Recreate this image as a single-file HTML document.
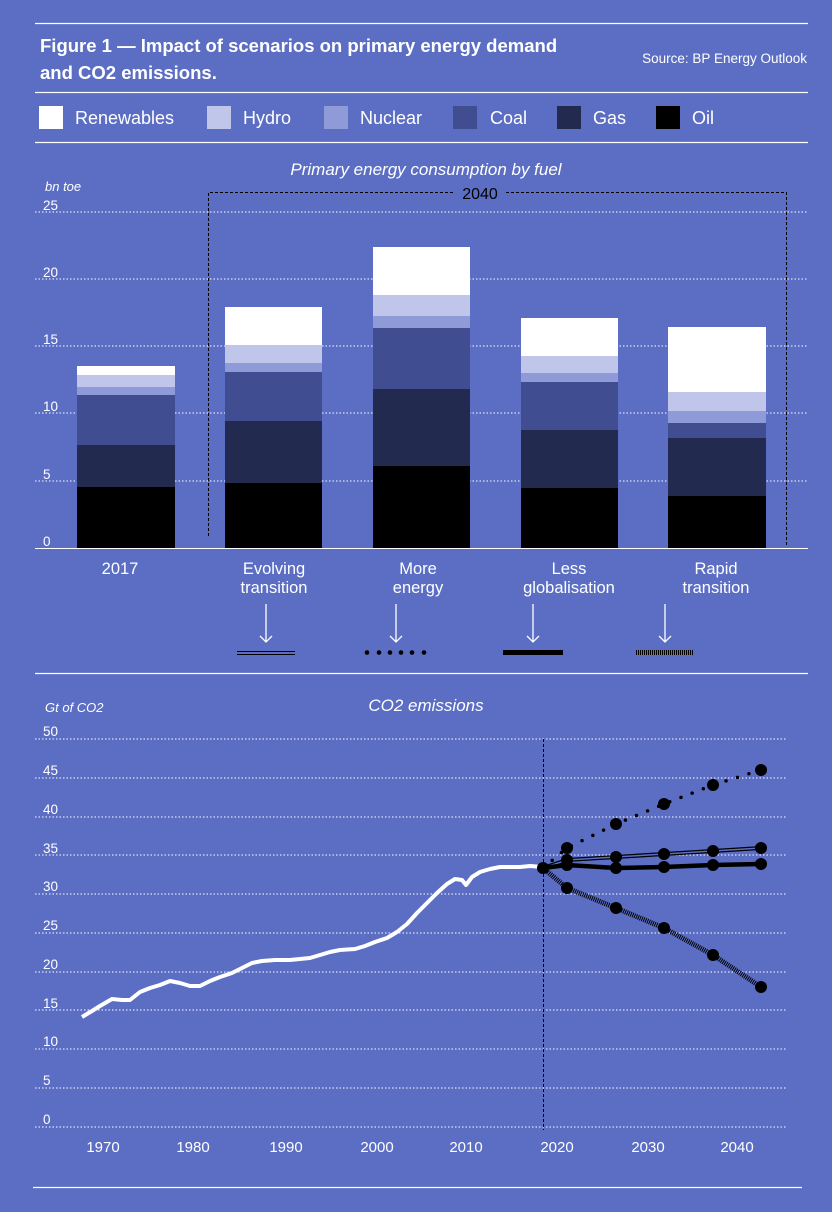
<!DOCTYPE html>
<html><head><meta charset="utf-8"><style>
html,body{margin:0;padding:0;background:#5b6ec4;}
svg{display:block;font-family:"Liberation Sans",sans-serif;}
</style></head><body>
<svg width="832" height="1212" viewBox="0 0 832 1212" xmlns="http://www.w3.org/2000/svg">
<rect width="832" height="1212" fill="#5b6ec4"/>
<g stroke="#fff" stroke-width="1.2">
<line x1="35" y1="23.5" x2="808" y2="23.5"/>
<line x1="35" y1="92.5" x2="808" y2="92.5"/>
<line x1="35" y1="142.5" x2="808" y2="142.5"/>
<line x1="35" y1="673.5" x2="808" y2="673.5"/>
<line x1="33" y1="1187.5" x2="802" y2="1187.5"/>
</g>
<g fill="#fff">
<text x="40" y="52" font-size="18.5" font-weight="bold">Figure 1 — Impact of scenarios on primary energy demand</text>
<text x="40" y="79" font-size="18.5" font-weight="bold">and CO2 emissions.</text>
<text x="807" y="63" font-size="13.5" text-anchor="end">Source: BP Energy Outlook</text>
</g>
<g font-size="18" fill="#fff">
<rect x="39" y="106" width="24" height="23" fill="#fff"/><text x="75" y="124">Renewables</text>
<rect x="207" y="106" width="24" height="23" fill="#c0c6ea"/><text x="243" y="124">Hydro</text>
<rect x="324" y="106" width="24" height="23" fill="#8f9ad8"/><text x="360" y="124">Nuclear</text>
<rect x="453" y="106" width="24" height="23" fill="#414d91"/><text x="490" y="124">Coal</text>
<rect x="557" y="106" width="24" height="23" fill="#222a4f"/><text x="593" y="124">Gas</text>
<rect x="656" y="106" width="24" height="23" fill="#000"/><text x="692" y="124">Oil</text>
</g>
<text x="426" y="175" font-size="17" font-style="italic" fill="#fff" text-anchor="middle">Primary energy consumption by fuel</text>
<text x="45" y="191" font-size="13" font-style="italic" fill="#fff">bn toe</text>
<g stroke="#fff" stroke-dasharray="1.5,2" stroke-width="1">
<line x1="35" y1="212" x2="808" y2="212"/><line x1="35" y1="279" x2="808" y2="279"/>
<line x1="35" y1="346" x2="808" y2="346"/><line x1="35" y1="413" x2="808" y2="413"/>
<line x1="35" y1="481" x2="808" y2="481"/>
</g>
<line x1="35" y1="548.5" x2="808" y2="548.5" stroke="#fff" stroke-width="1"/>
<g font-size="13.5" fill="#fff">
<text x="43" y="210">25</text><text x="43" y="277">20</text><text x="43" y="344">15</text>
<text x="43" y="411">10</text><text x="43" y="479">5</text><text x="43" y="546">0</text>
</g>
<path d="M208.5,536 V192.5 H455 M506,192.5 H786.5 V546" fill="none" stroke="#000" stroke-dasharray="3,2" stroke-width="1"/>
<text x="480" y="199" font-size="16" fill="#000" text-anchor="middle">2040</text>
<g>
<rect x="77" y="366" width="98" height="9" fill="#fff"/><rect x="77" y="375" width="98" height="12" fill="#c0c6ea"/>
<rect x="77" y="387" width="98" height="8" fill="#8f9ad8"/><rect x="77" y="395" width="98" height="50" fill="#414d91"/>
<rect x="77" y="445" width="98" height="42" fill="#222a4f"/><rect x="77" y="487" width="98" height="61" fill="#000"/>
<rect x="225" y="307" width="97" height="38" fill="#fff"/><rect x="225" y="345" width="97" height="18" fill="#c0c6ea"/>
<rect x="225" y="363" width="97" height="9" fill="#8f9ad8"/><rect x="225" y="372" width="97" height="49" fill="#414d91"/>
<rect x="225" y="421" width="97" height="62" fill="#222a4f"/><rect x="225" y="483" width="97" height="65" fill="#000"/>
<rect x="373" y="247" width="97" height="48" fill="#fff"/><rect x="373" y="295" width="97" height="21" fill="#c0c6ea"/>
<rect x="373" y="316" width="97" height="12" fill="#8f9ad8"/><rect x="373" y="328" width="97" height="61" fill="#414d91"/>
<rect x="373" y="389" width="97" height="77" fill="#222a4f"/><rect x="373" y="466" width="97" height="82" fill="#000"/>
<rect x="521" y="318" width="97" height="38" fill="#fff"/><rect x="521" y="356" width="97" height="17" fill="#c0c6ea"/>
<rect x="521" y="373" width="97" height="9" fill="#8f9ad8"/><rect x="521" y="382" width="97" height="48" fill="#414d91"/>
<rect x="521" y="430" width="97" height="58" fill="#222a4f"/><rect x="521" y="488" width="97" height="60" fill="#000"/>
<rect x="668" y="327" width="98" height="65" fill="#fff"/><rect x="668" y="392" width="98" height="19" fill="#c0c6ea"/>
<rect x="668" y="411" width="98" height="12" fill="#8f9ad8"/><rect x="668" y="423" width="98" height="15" fill="#414d91"/>
<rect x="668" y="438" width="98" height="58" fill="#222a4f"/><rect x="668" y="496" width="98" height="52" fill="#000"/>
</g>
<g font-size="16.5" fill="#fff" text-anchor="middle">
<text x="120" y="574">2017</text>
<text x="274" y="574">Evolving</text><text x="274" y="593">transition</text>
<text x="418" y="574">More</text><text x="418" y="593">energy</text>
<text x="569" y="574">Less</text><text x="569" y="593">globalisation</text>
<text x="716" y="574">Rapid</text><text x="716" y="593">transition</text>
</g>
<g stroke="#fff" stroke-width="1.3" fill="none">
<path d="M266,604 V642 M260,636 L266,642 L272,636"/>
<path d="M396,604 V642 M390,636 L396,642 L402,636"/>
<path d="M533,604 V642 M527,636 L533,642 L539,636"/>
<path d="M665,604 V642 M659,636 L665,642 L671,636"/>
</g>
<g stroke="#000">
<line x1="237" y1="651.5" x2="295" y2="651.5" stroke-width="1"/><line x1="237" y1="654.5" x2="295" y2="654.5" stroke-width="1"/>
<line x1="503" y1="652.5" x2="563" y2="652.5" stroke-width="5"/>
<line x1="636" y1="652.5" x2="694" y2="652.5" stroke-width="5" stroke-dasharray="1,1"/>
</g>
<g fill="#000"><circle cx="367" cy="652.5" r="2.3"/><circle cx="379" cy="652.5" r="2.3"/><circle cx="390" cy="652.5" r="2.3"/><circle cx="401" cy="652.5" r="2.3"/><circle cx="412" cy="652.5" r="2.3"/><circle cx="424" cy="652.5" r="2.3"/></g>
<text x="426" y="711" font-size="17" font-style="italic" fill="#fff" text-anchor="middle">CO2 emissions</text>
<text x="45" y="712" font-size="13" font-style="italic" fill="#fff">Gt of CO2</text>
<g stroke="#fff" stroke-dasharray="1.5,2" stroke-width="1">
<line x1="35" y1="739" x2="786" y2="739"/><line x1="35" y1="778" x2="786" y2="778"/>
<line x1="35" y1="817" x2="786" y2="817"/><line x1="35" y1="855" x2="786" y2="855"/>
<line x1="35" y1="894" x2="786" y2="894"/><line x1="35" y1="933" x2="786" y2="933"/>
<line x1="35" y1="972" x2="786" y2="972"/><line x1="35" y1="1010" x2="786" y2="1010"/>
<line x1="35" y1="1049" x2="786" y2="1049"/><line x1="35" y1="1088" x2="786" y2="1088"/>
<line x1="35" y1="1127" x2="786" y2="1127"/>
</g>
<g font-size="13.5" fill="#fff">
<text x="43" y="736">50</text><text x="43" y="775">45</text><text x="43" y="814">40</text>
<text x="43" y="853">35</text><text x="43" y="891">30</text><text x="43" y="930">25</text>
<text x="43" y="969">20</text><text x="43" y="1008">15</text><text x="43" y="1046">10</text>
<text x="43" y="1085">5</text><text x="43" y="1124">0</text>
</g>
<g font-size="15" fill="#fff" text-anchor="middle">
<text x="103" y="1152">1970</text><text x="193" y="1152">1980</text><text x="286" y="1152">1990</text>
<text x="377" y="1152">2000</text><text x="466" y="1152">2010</text><text x="557" y="1152">2020</text>
<text x="648" y="1152">2030</text><text x="737" y="1152">2040</text>
</g>
<line x1="543.5" y1="739" x2="543.5" y2="1130" stroke="#000" stroke-dasharray="3,2" stroke-width="1"/>
<polyline fill="none" stroke="#fff" stroke-width="4" stroke-linejoin="round" points="82,1017 92,1011 100,1006 112,999 122,1000 130,1000 140,992 150,988 160,985 170,981 180,983 190,986 200,986 210,981 220,977 232,973 242,968 252,963 262,961 275,960 290,960 300,959 310,958 320,955 330,952 340,950 355,949 365,946 375,942 387,938 397,932 407,924 417,913 427,903 437,893 447,884 455,879 462,880 466,885 472,877 480,872 490,869 500,867 510,867 520,867 530,866 543,867"/>
<polyline fill="none" stroke="#000" stroke-width="3.5" stroke-linecap="round" stroke-dasharray="0,12" points="543,868 567,848 616,824 664,804 713,785 761,770"/>
<polyline fill="none" stroke="#000" stroke-width="4" points="543,868 567,860 616,857 664,854 713,851 761,848"/>
<polyline fill="none" stroke="#5b6ec4" stroke-width="1.5" points="543,868 567,860 616,857 664,854 713,851 761,848"/>
<polyline fill="none" stroke="#000" stroke-width="4.5" points="543,868 567,865 616,868 664,867 713,865 761,864"/>
<polyline fill="none" stroke="#000" stroke-width="5" stroke-dasharray="1,1" points="543,868 567,888 616,908 664,928 713,955 761,987"/>
<g fill="#000">
<circle cx="543" cy="868" r="6"/>
<circle cx="567" cy="848" r="6"/><circle cx="616" cy="824" r="6"/><circle cx="664" cy="804" r="6"/><circle cx="713" cy="785" r="6"/><circle cx="761" cy="770" r="6"/>
<circle cx="567" cy="860" r="6"/><circle cx="616" cy="857" r="6"/><circle cx="664" cy="854" r="6"/><circle cx="713" cy="851" r="6"/><circle cx="761" cy="848" r="6"/>
<circle cx="567" cy="865" r="6"/><circle cx="616" cy="868" r="6"/><circle cx="664" cy="867" r="6"/><circle cx="713" cy="865" r="6"/><circle cx="761" cy="864" r="6"/>
<circle cx="567" cy="888" r="6"/><circle cx="616" cy="908" r="6"/><circle cx="664" cy="928" r="6"/><circle cx="713" cy="955" r="6"/><circle cx="761" cy="987" r="6"/>
</g>
</svg>
</body></html>
